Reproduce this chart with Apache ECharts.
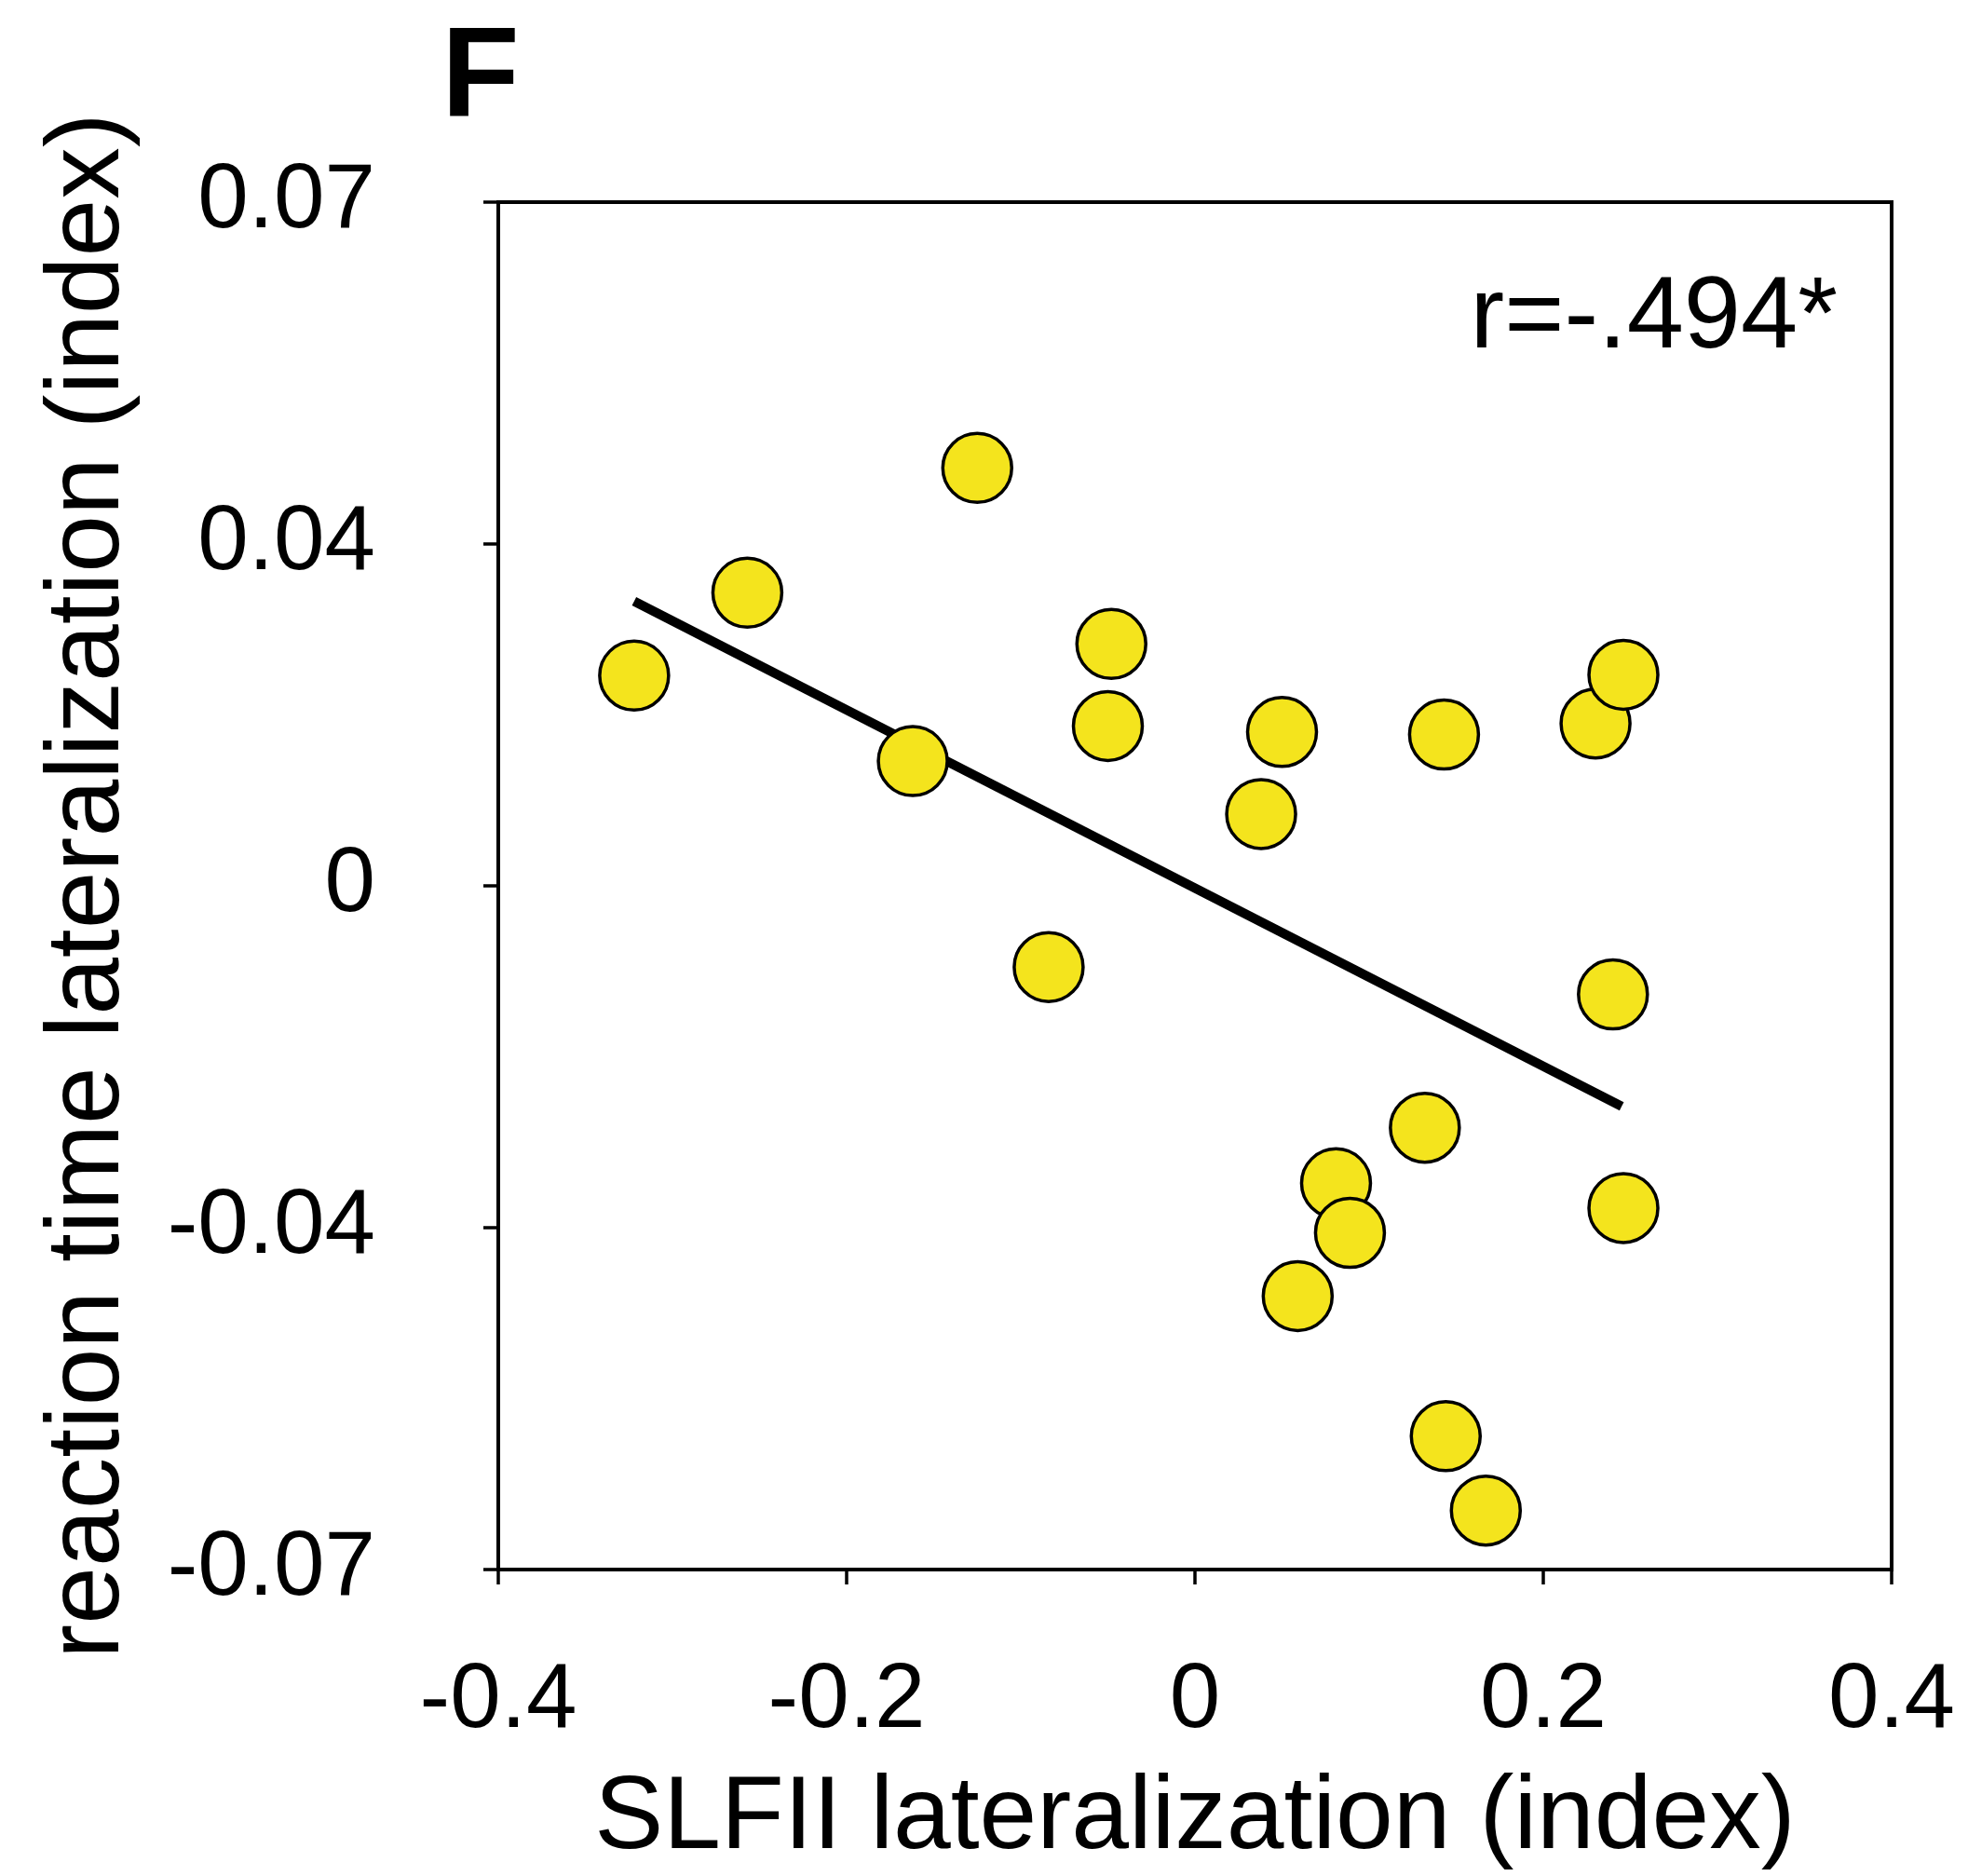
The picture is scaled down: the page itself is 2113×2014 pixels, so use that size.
<!DOCTYPE html>
<html>
<head>
<meta charset="utf-8">
<script src="https://cdn.jsdelivr.net/npm/echarts@6/dist/echarts.min.js"></script>
<style>
html,body{margin:0;padding:0;background:#fff;}
#chart{width:2113px;height:2014px;}
</style>
</head>
<body>
<div id="chart"></div>
<script>
// ---- data ----
const xValues = [-0.322, -0.257, -0.125, -0.162, -0.048, -0.050, -0.084, 0.050, 0.038, 0.143, 0.230, 0.246, 0.240, 0.132, 0.081, 0.089, 0.246, 0.059, 0.144, 0.167];
const yValues = [0.0246, 0.0343, 0.0489, 0.0146, 0.0283, 0.0187, -0.0095, 0.0180, 0.0084, 0.0177, 0.0190, 0.0247, -0.0127, -0.0283, -0.0348, -0.0406, -0.0377, -0.0480, -0.0644, -0.0731];
const fitX = [-0.322, 0.245];
const fitY = [0.0333, -0.0258];
const xTickValues = [-0.4, -0.2, 0, 0.2, 0.4];
const xTickLabels = ['-0.4', '-0.2', '0', '0.2', '0.4'];
const yTickValues = [-0.08, -0.04, 0, 0.04, 0.08];
const yTickLabels = ['-0.07', '-0.04', '0', '0.04', '0.07'];
const xTitle = 'SLFII lateralization (index)';
const yTitle = 'reaction time lateralization (index)';
const panelLabel = 'F';
const corrLabel = 'r=-.494*';

const FONT = '"Liberation Sans", Arial, Helvetica, sans-serif';
function labelFor(values, labels) {
  return function (v) {
    let best = 0;
    for (let i = 1; i < values.length; i++) {
      if (Math.abs(values[i] - v) < Math.abs(values[best] - v)) best = i;
    }
    return labels[best];
  };
}

const chart = echarts.init(document.getElementById('chart'), null, {renderer: 'canvas'});
chart.setOption({
  backgroundColor: '#fff',
  animation: false,
  grid: {
    left: 535, right: 82, top: 217, bottom: 329,
    show: true, borderColor: '#000', borderWidth: 4, backgroundColor: 'transparent'
  },
  xAxis: {
    type: 'value',
    min: xTickValues[0], max: xTickValues[xTickValues.length - 1], interval: 0.2,
    splitLine: {show: false},
    axisLine: {show: true, onZero: false, lineStyle: {color: '#000', width: 4}},
    axisTick: {show: true, inside: false, length: 16, lineStyle: {color: '#000', width: 3.5}},
    axisLabel: {
      show: true, margin: 93, color: '#000', fontSize: 98, fontFamily: FONT,
      showMinLabel: true, showMaxLabel: true,
      formatter: labelFor(xTickValues, xTickLabels)
    },
    name: xTitle, nameLocation: 'middle', nameGap: 213,
    nameTextStyle: {color: '#000', fontSize: 111, fontFamily: FONT}
  },
  yAxis: {
    type: 'value',
    min: yTickValues[0], max: yTickValues[yTickValues.length - 1], interval: 0.04,
    splitLine: {show: false},
    axisLine: {show: true, onZero: false, lineStyle: {color: '#000', width: 4}},
    axisTick: {show: true, inside: false, length: 16, lineStyle: {color: '#000', width: 3.5}},
    axisLabel: {
      show: true, margin: 132, color: '#000', fontSize: 98, fontFamily: FONT,
      showMinLabel: true, showMaxLabel: true,
      formatter: labelFor(yTickValues, yTickLabels)
    },
    name: yTitle, nameLocation: 'middle', nameGap: 383,
    nameTextStyle: {color: '#000', fontSize: 111, fontFamily: FONT}
  },
  graphic: [
    {
      type: 'text', x: 474, y: 87,
      style: {text: panelLabel, fill: '#000', font: 'bold 137px ' + FONT, align: 'left', verticalAlign: 'middle'}
    },
    {
      type: 'text', x: 1973, y: 343,
      style: {text: corrLabel, fill: '#000', font: '110px ' + FONT, align: 'right', verticalAlign: 'middle'}
    }
  ],
  series: [
    {
      type: 'line',
      data: fitX.map((x, i) => [x, fitY[i]]),
      symbol: 'none',
      lineStyle: {color: '#000', width: 10, cap: 'butt'},
      z: 2, silent: true
    },
    {
      type: 'scatter',
      data: xValues.map((x, i) => [x, yValues[i]]),
      symbol: 'circle',
      symbolSize: 74,
      itemStyle: {color: '#F4E41D', borderColor: '#000', borderWidth: 3.5, opacity: 1},
      z: 3, silent: true
    }
  ]
});
</script>
</body>
</html>
